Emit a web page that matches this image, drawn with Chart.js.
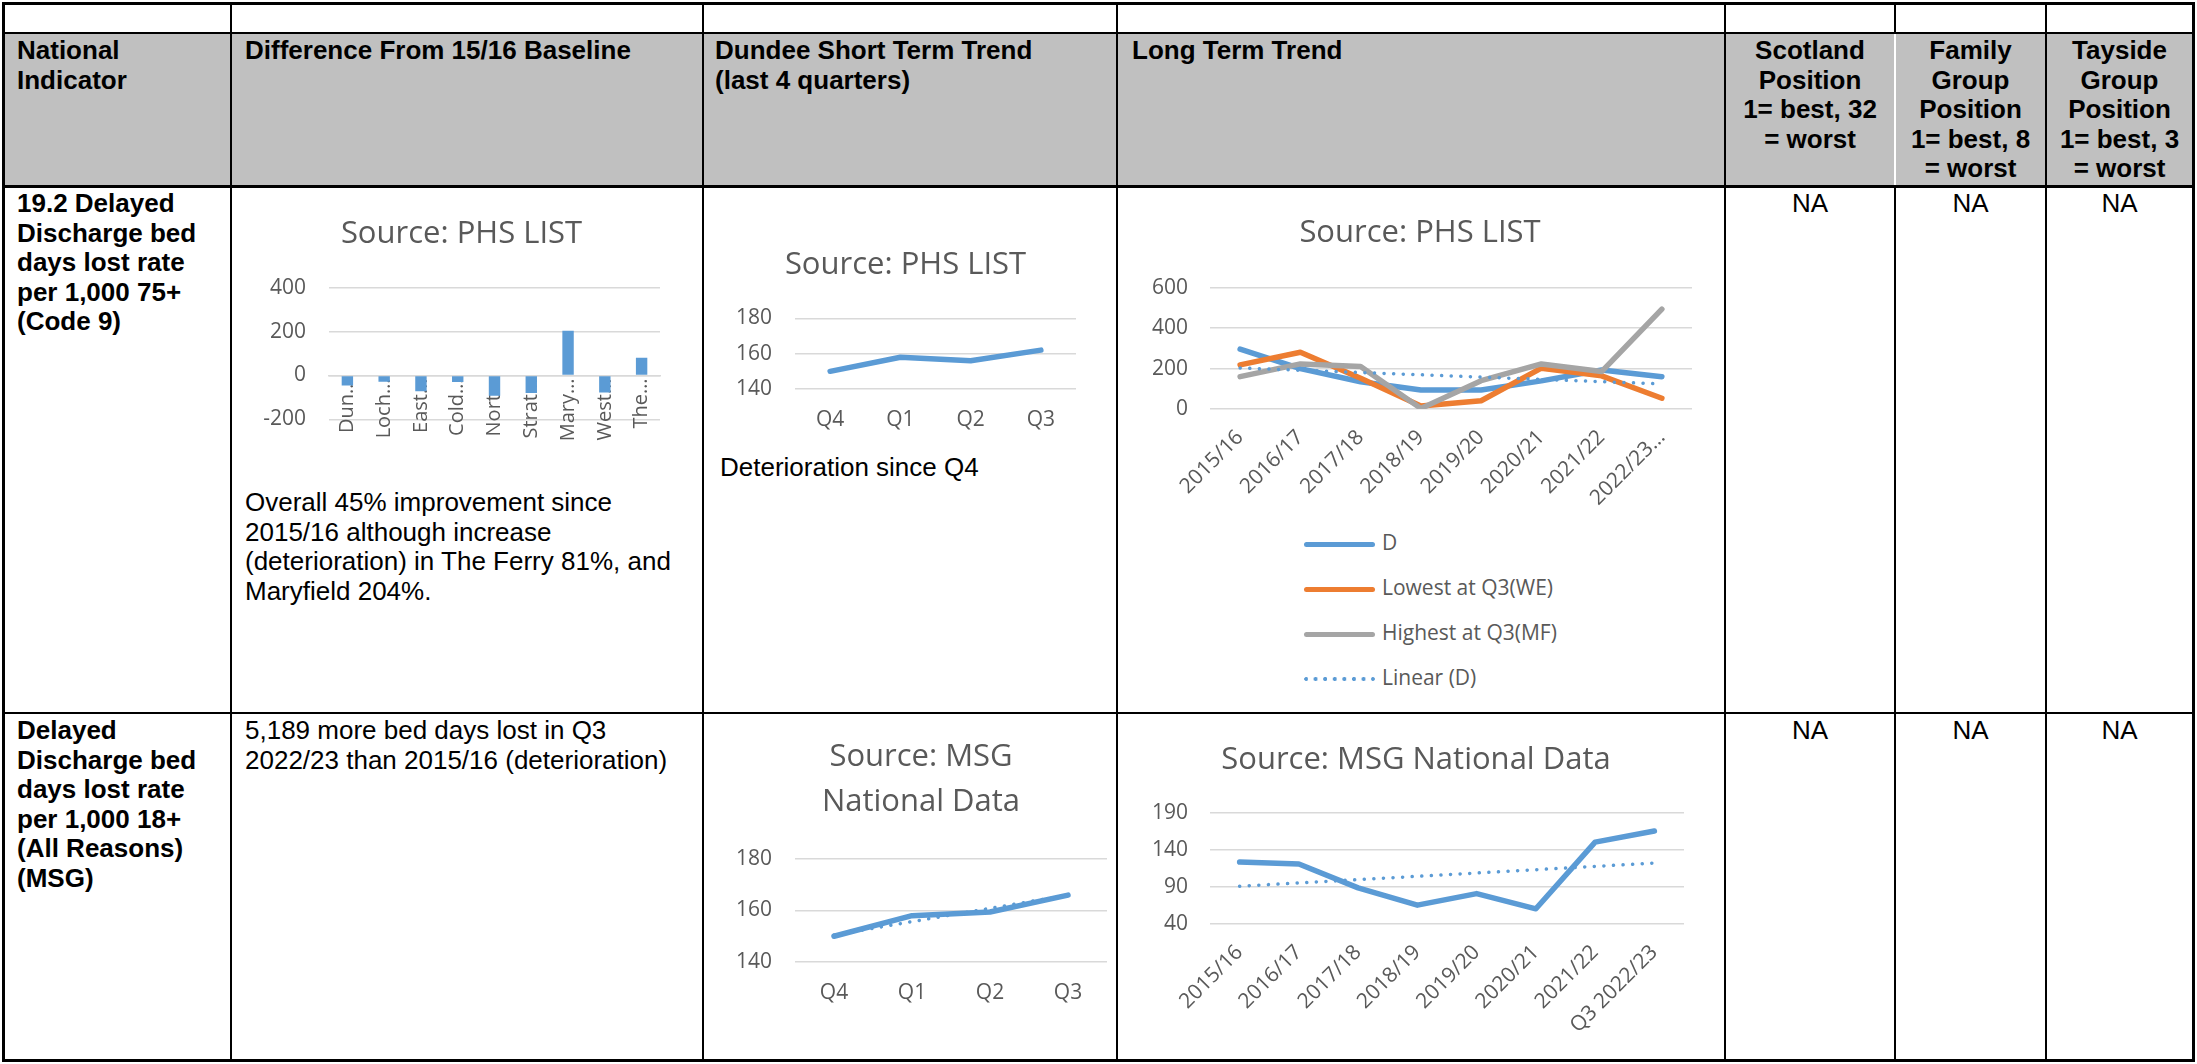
<!DOCTYPE html>
<html>
<head>
<meta charset="utf-8">
<title>Delayed Discharge</title>
<script src="https://cdn.jsdelivr.net/npm/chart.js@4.4.1/dist/chart.umd.min.js"></script>
<style>
  html, body { margin: 0; padding: 0; background: #fff; }
  body { position: relative; width: 2197px; height: 1064px; overflow: hidden;
         font-family: "Liberation Sans", Arial, sans-serif; color: #000; }
  .ln { position: absolute; background: #000; }
  .ln.w { background: #fff; }
  .head { position: absolute; left: 5px; top: 34px; width: 2187px; height: 151px; background: #c0c0c0; }
  .tx { position: absolute; font-size: 26px; line-height: 29.5px; white-space: nowrap; }
  .b { font-weight: bold; }
  .c { text-align: center; }
  canvas { position: absolute; }
  .legend { position: absolute; left: 1304px; top: 520px; font-family: "Open Sans", sans-serif;
            font-size: 21px; color: #595959; }
  .legend div { height: 45px; line-height: 45px; white-space: nowrap; }
  .legend .sw { display: inline-block; width: 71px; height: 5px; border-radius: 3px;
                vertical-align: middle; margin-right: 7px; }
</style>
</head>
<body>
<div class="head"></div>

<!-- table rules -->
<div class="ln" style="left:2px;top:2px;width:2193px;height:3px"></div>
<div class="ln" style="left:2px;top:32px;width:2193px;height:2px"></div>
<div class="ln" style="left:2px;top:185px;width:2193px;height:3px"></div>
<div class="ln" style="left:2px;top:712px;width:2193px;height:2px"></div>
<div class="ln" style="left:2px;top:1059px;width:2193px;height:3px"></div>
<div class="ln" style="left:2px;top:2px;width:3px;height:1060px"></div>
<div class="ln" style="left:230px;top:2px;width:2px;height:1060px"></div>
<div class="ln" style="left:702px;top:2px;width:2px;height:1060px"></div>
<div class="ln" style="left:1116px;top:2px;width:2px;height:1060px"></div>
<div class="ln" style="left:1724px;top:2px;width:2px;height:1060px"></div>
<div class="ln" style="left:1894px;top:2px;width:2px;height:1060px"></div>
<div class="ln w" style="left:1894px;top:34px;width:2px;height:151px"></div>
<div class="ln" style="left:2045px;top:2px;width:2px;height:1060px"></div>
<div class="ln" style="left:2192px;top:2px;width:3px;height:1060px"></div>

<!-- header -->
<div class="tx b" style="left:17px;top:36px">National<br>Indicator</div>
<div class="tx b" style="left:245px;top:36px">Difference From 15/16 Baseline</div>
<div class="tx b" style="left:715px;top:36px">Dundee Short Term Trend<br>(last 4 quarters)</div>
<div class="tx b" style="left:1132px;top:36px">Long Term Trend</div>
<div class="tx b c" style="left:1726px;top:36px;width:168px">Scotland<br>Position<br>1= best, 32<br>= worst</div>
<div class="tx b c" style="left:1896px;top:36px;width:149px">Family<br>Group<br>Position<br>1= best, 8<br>= worst</div>
<div class="tx b c" style="left:2047px;top:36px;width:145px">Tayside<br>Group<br>Position<br>1= best, 3<br>= worst</div>

<!-- row 1 -->
<div class="tx b" style="left:17px;top:189px">19.2 Delayed<br>Discharge bed<br>days lost rate<br>per 1,000 75+<br>(Code 9)</div>
<div class="tx" style="left:245px;top:488px">Overall 45% improvement since<br>2015/16 although increase<br>(deterioration) in The Ferry 81%, and<br>Maryfield 204%.</div>
<div class="tx" style="left:720px;top:453px">Deterioration since Q4</div>
<div class="tx c" style="left:1726px;top:189px;width:168px">NA</div>
<div class="tx c" style="left:1896px;top:189px;width:149px">NA</div>
<div class="tx c" style="left:2047px;top:189px;width:145px">NA</div>

<!-- row 2 -->
<div class="tx b" style="left:17px;top:716px">Delayed<br>Discharge bed<br>days lost rate<br>per 1,000 18+<br>(All Reasons)<br>(MSG)</div>
<div class="tx" style="left:245px;top:716px">5,189 more bed days lost in Q3<br>2022/23 than 2015/16 (deterioration)</div>
<div class="tx c" style="left:1726px;top:716px;width:168px">NA</div>
<div class="tx c" style="left:1896px;top:716px;width:149px">NA</div>
<div class="tx c" style="left:2047px;top:716px;width:145px">NA</div>

<canvas id="baseline" width="460" height="265" style="left:236px;top:190px"></canvas>
<canvas id="phsQuarter" width="406" height="229" style="left:706px;top:215px"></canvas>
<canvas id="phsYear" width="590" height="313" style="left:1126px;top:198px"></canvas>
<div class="legend" id="phsYearLegend"></div>
<canvas id="msgQuarter" width="406" height="302" style="left:706px;top:715px"></canvas>
<canvas id="msgYear" width="590" height="319" style="left:1126px;top:722px"></canvas>

<script>
// difference from 15/16 baseline (%), by locality
var areaNames = ['Dundee', 'Lochee', 'East End', 'Coldside', 'North East',
                 'Strathmartine', 'Maryfield', 'West End', 'The Ferry'];
var baselineDiff = [-45, -28, -72, -30, -92, -80, 204, -77, 81];

// short term trend, last 4 quarters
var quarters = ['Q4', 'Q1', 'Q2', 'Q3'];
var phsQuarterRate = [150, 158, 156, 162];
var msgQuarterRate = [150, 158, 159.4, 166];
var msgQuarterTrend = [150.5, null, null, 166];

// long term trend, PHS LIST
var phsYears = ['2015/16', '2016/17', '2017/18', '2018/19', '2019/20', '2020/21', '2021/22', '2022/23…'];
var phsDundee = [296, 200, 135, 94, 94, 139, 193, 160];
var phsLowestWE = [218, 281, 152, 15, 41, 202, 164, 53];
var phsHighestMF = [160, 223, 210, 3, 140, 223, 185, 494];
var phsDundeeTrend = [203, null, null, null, null, null, null, 124];

// long term trend, MSG national data
var msgYears = ['2015/16', '2016/17', '2017/18', '2018/19', '2019/20', '2020/21', '2021/22', 'Q3 2022/23'];
var msgYearRate = [123.5, 120.8, 88.7, 65.4, 81, 60.5, 150.3, 165.4];
var msgYearTrend = [90.9, null, null, null, null, null, null, 122.1];

var BLUE = '#5b9bd5', ORANGE = '#ed7d31', GREY = '#a5a5a5';
var GRID = '#d9d9d9', TEXT = '#595959';

Chart.defaults.font.family = "'Open Sans', sans-serif";
Chart.defaults.color = TEXT;

/** shorten a label to fit the width, Excel style */
var measure = document.createElement('canvas').getContext('2d');
function fitLabel(text, maxW) {
    measure.font = '20px "Open Sans"';
    if (measure.measureText(text).width <= maxW) return text;
    var s = text;
    while (s.length > 1 && measure.measureText(s).width > maxW) s = s.slice(0, -1);
    return s.trim() + '…';
}

function fixWidth(w) { return function(scale) { scale.width = w; }; }
function fixHeight(h) { return function(scale) { scale.height = h; }; }

function lineSet(label, data, color, order, dotted) {
    return {
        label: label,
        data: data,
        borderColor: color,
        backgroundColor: color,
        borderWidth: dotted ? 3.5 : 5.5,
        borderDash: dotted ? [0.1, 9.5] : [],
        borderCapStyle: 'round',
        borderJoinStyle: 'round',
        pointRadius: 0,
        spanGaps: true,
        tension: 0,
        order: order
    };
}

function title(text, padTop, padBottom, lineHeight) {
    return {
        display: true,
        text: text,
        color: TEXT,
        font: { size: 31, weight: 'normal', lineHeight: lineHeight || 1.2 },
        padding: { top: padTop, bottom: padBottom }
    };
}

function yScale(min, max, step, width, pad) {
    return {
        min: min, max: max,
        afterFit: fixWidth(width),
        ticks: { stepSize: step, padding: pad, font: { size: 21 } },
        grid: { color: GRID, lineWidth: 1.5, drawTicks: false },
        border: { display: false }
    };
}

function xScale(height, pad, rotation) {
    return {
        offset: true,
        afterFit: fixHeight(height),
        ticks: { padding: pad, font: { size: 21 }, minRotation: rotation, maxRotation: rotation, autoSkip: false },
        grid: { display: false, drawTicks: false },
        border: { display: false }
    };
}

function baseOptions(padding, titleOpts, scales) {
    return {
        responsive: false,
        animation: false,
        devicePixelRatio: 1,
        layout: { padding: padding },
        plugins: { legend: { display: false }, tooltip: { enabled: false }, title: titleOpts },
        scales: scales
    };
}

// difference from baseline (bars)
new Chart(document.getElementById('baseline').getContext('2d'), {
    type: 'bar',
    data: {
        labels: areaNames,
        datasets: [{ data: baselineDiff, backgroundColor: BLUE, barPercentage: 0.31, categoryPercentage: 1 }]
    },
    options: baseOptions({ left: 27, right: 36, top: 0, bottom: 35 },
        title('Source: PHS LIST', 25.4, 35.1), {
            x: {
                position: { y: 0 },
                ticks: {
                    padding: 3, font: { size: 20 }, minRotation: 90, maxRotation: 90, autoSkip: false,
                    callback: function(v) { return fitLabel(this.getLabelForValue(v), 49.4); }
                },
                grid: { display: false, drawTicks: false },
                border: { color: GRID, width: 1.5 }
            },
            y: yScale(-200, 400, 200, 66, 23)
        })
});

// PHS short term trend
new Chart(document.getElementById('phsQuarter').getContext('2d'), {
    type: 'line',
    data: { labels: quarters, datasets: [lineSet('D', phsQuarterRate, BLUE, 1)] },
    options: baseOptions({ left: 29, right: 36, top: 0, bottom: 10 },
        title('Source: PHS LIST', 31.4, 34.7), {
            x: xScale(45, 18, 0),
            y: yScale(140, 180, 20, 60, 23)
        })
});

// PHS long term trend with localities
var phsYearChart = new Chart(document.getElementById('phsYear').getContext('2d'), {
    type: 'line',
    data: {
        labels: phsYears,
        datasets: [
            lineSet('D', phsDundee, BLUE, 3),
            lineSet('Lowest at Q3(WE)', phsLowestWE, ORANGE, 2),
            lineSet('Highest at Q3(MF)', phsHighestMF, GREY, 1),
            lineSet('Linear (D)', phsDundeeTrend, BLUE, 0, true)
        ]
    },
    options: baseOptions({ left: 22, right: 24, top: 0, bottom: 2 },
        title('Source: PHS LIST', 16.4, 36.1), {
            x: xScale(100, 16, 45),
            y: yScale(0, 600, 200, 62, 22)
        })
});

// legend for the long term chart, one item per row
(function(chart, box) {
    chart.data.datasets.forEach(function(ds) {
        var row = document.createElement('div');
        var sw = document.createElement('span');
        sw.className = 'sw';
        if (ds.borderDash.length) {
            sw.style.height = '4px';
            sw.style.background = 'radial-gradient(circle at 2px 2px, ' + ds.borderColor +
                ' 1.8px, transparent 2.3px) 0 0 / 9.6px 4px repeat-x';
        } else {
            sw.style.background = ds.borderColor;
        }
        row.appendChild(sw);
        row.appendChild(document.createTextNode(ds.label));
        box.appendChild(row);
    });
})(phsYearChart, document.getElementById('phsYearLegend'));

// MSG short term trend
new Chart(document.getElementById('msgQuarter').getContext('2d'), {
    type: 'line',
    data: {
        labels: quarters,
        datasets: [
            lineSet('D', msgQuarterRate, BLUE, 1),
            lineSet('Linear (D)', msgQuarterTrend, BLUE, 0, true)
        ]
    },
    options: baseOptions({ left: 29, right: 5, top: 0, bottom: 10 },
        title(['Source: MSG', 'National Data'], 19.5, 34.5, 1.452), {
            x: xScale(45, 18, 0),
            y: yScale(140, 180, 20, 60, 23)
        })
});

// MSG long term trend
new Chart(document.getElementById('msgYear').getContext('2d'), {
    type: 'line',
    data: {
        labels: msgYears,
        datasets: [
            lineSet('D', msgYearRate, BLUE, 1),
            lineSet('Linear (D)', msgYearTrend, BLUE, 0, true)
        ]
    },
    options: baseOptions({ left: 22, right: 32, top: 0, bottom: 2 },
        title('Source: MSG National Data', 19.4, 34.1), {
            x: xScale(115, 16, 45),
            y: yScale(40, 190, 50, 62, 22)
        })
});
</script>
</body>
</html>
